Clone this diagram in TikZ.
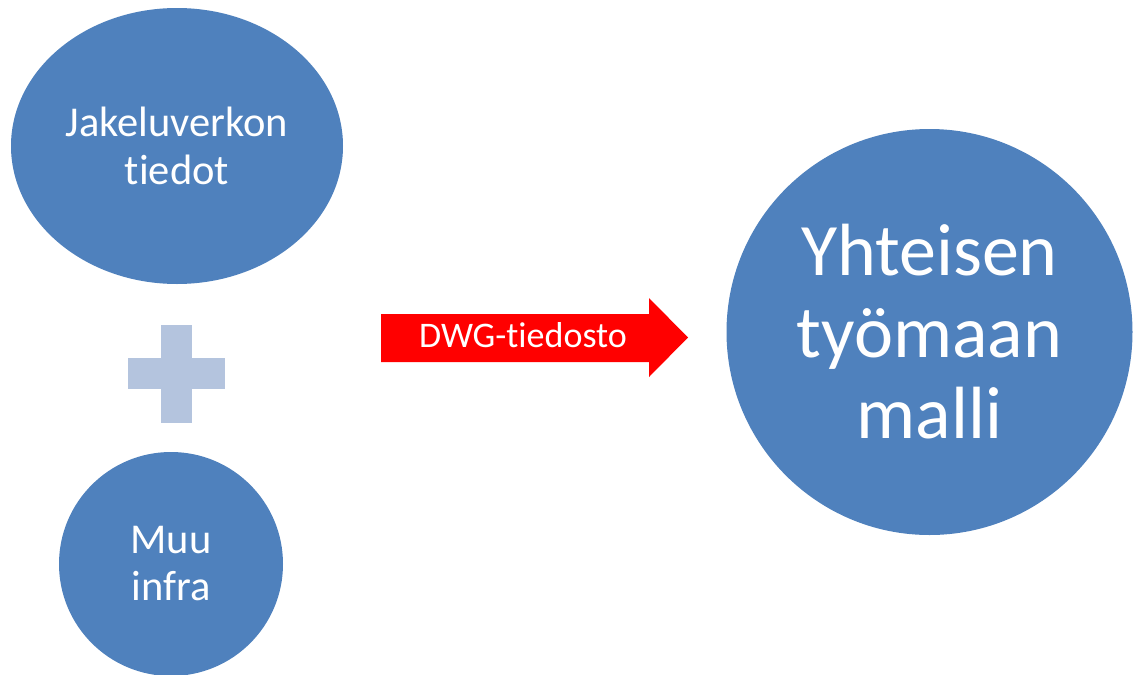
\documentclass[tikz,border=0pt]{standalone}
\usepackage{fontspec}
\setmainfont{Carlito}[Ligatures=NoCommon]
\usetikzlibrary{shapes.geometric}
\definecolor{blobblue}{RGB}{79,129,189}
\definecolor{pluscol}{RGB}{180,196,222}
\definecolor{arrowred}{RGB}{255,0,0}
\begin{document}
\begin{tikzpicture}[x=1pt,y=-1pt,
  blob/.style={ellipse, fill=blobblue, inner sep=0pt, text=white, align=center},
  plusbar/.style={fill=pluscol},
  arrowshape/.style={fill=arrowred},
  arrowlabel/.style={text=white, inner sep=0pt, font=\fontsize{36}{42}\selectfont}]
\useasboundingbox (0,0) rectangle (1136,675);
\fill[white] (0,0) rectangle (1136,675);
\node[blob, minimum width=332pt, minimum height=276pt, font=\fontsize{42.5}{48}\selectfont] (jakelu) at (177,146) {Jakeluverkon\\tiedot};
\fill[plusbar] (161,325) rectangle (192,423);
\fill[plusbar] (128,358) rectangle (225,389);
\coordinate (plus) at (176.5,374);
\node[blob, minimum width=224pt, minimum height=224pt, font=\fontsize{42.5}{47}\selectfont] (muu) at (171,564) {Muu\\infra};
\fill[arrowshape] (381,314) -- (649,314) -- (649,298) -- (688,337.5) -- (649,377) -- (649,362) -- (381,362) -- cycle;
\node[arrowlabel, anchor=base] (dwg) at (523,347) {DWG-tiedosto};
\node[blob, minimum width=406pt, minimum height=406pt, font=\fontsize{74}{81.5}\selectfont] (malli) at (929.5,332) {Yhteisen\\työmaan\\malli};
\end{tikzpicture}
\end{document}
